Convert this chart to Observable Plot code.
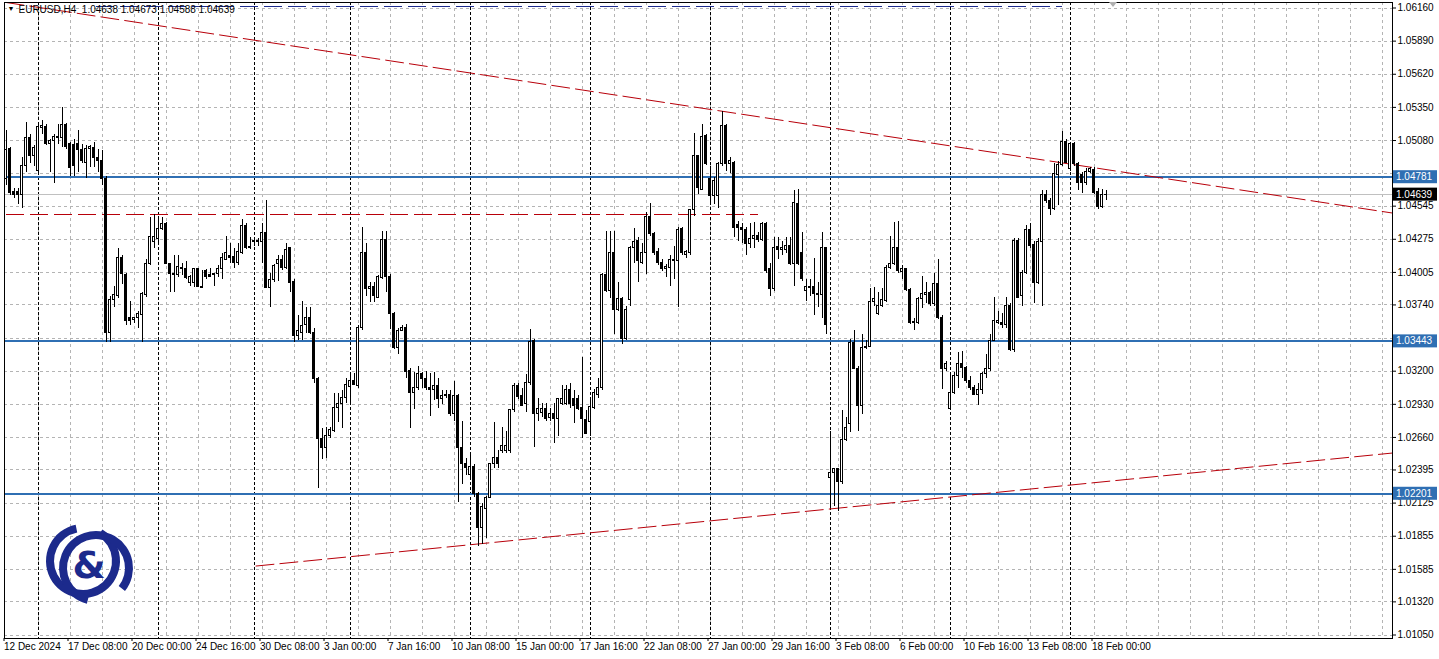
<!DOCTYPE html>
<html><head><meta charset="utf-8">
<script src="https://cdn.jsdelivr.net/npm/d3@7"></script>
<script src="https://cdn.jsdelivr.net/npm/@observablehq/plot@0.6"></script>
<style>
html,body{margin:0;padding:0;background:#fff;overflow:hidden}
#wrap{position:relative;width:1439px;height:659px}
svg{display:block}
</style></head><body><div id="wrap"></div>
<script>
const symbol = "EURUSD,H4";
const opens = [
1.0477,1.0501,1.0466,1.0466,1.0464,1.0487,1.0510,1.0495,1.0483,1.0518,
1.0519,1.0505,1.0508,1.0510,1.0510,1.0521,1.0505,1.0504,1.0505,1.0500,
1.0490,1.0501,1.0502,1.0494,1.0491,1.0477,1.0351,1.0378,1.0381,1.0412,
1.0398,1.0363,1.0362,1.0363,1.0366,1.0382,1.0407,1.0425,1.0428,1.0436,
1.0440,1.0407,1.0399,1.0398,1.0403,1.0403,1.0392,1.0392,1.0403,1.0389,
1.0402,1.0398,1.0398,1.0399,1.0403,1.0411,1.0414,1.0413,1.0408,1.0416,
1.0438,1.0421,1.0425,1.0425,1.0425,1.0433,1.0388,1.0394,1.0407,1.0411,
1.0404,1.0420,1.0393,1.0349,1.0351,1.0358,1.0363,1.0351,1.0314,1.0265,
1.0257,1.0267,1.0271,1.0290,1.0293,1.0298,1.0307,1.0312,1.0308,1.0355,
1.0416,1.0387,1.0389,1.0380,1.0396,1.0427,1.0397,1.0367,1.0339,1.0353,
1.0355,1.0320,1.0302,1.0306,1.0318,1.0314,1.0306,1.0305,1.0308,1.0297,
1.0300,1.0301,1.0285,1.0300,1.0257,1.0244,1.0235,1.0242,1.0220,1.0192,
1.0208,1.0217,1.0244,1.0249,1.0255,1.0255,1.0255,1.0288,1.0308,1.0300,
1.0293,1.0310,1.0345,1.0285,1.0286,1.0289,1.0282,1.0285,1.0281,1.0293,
1.0293,1.0305,1.0297,1.0297,1.0290,1.0280,1.0279,1.0290,1.0301,1.0306,
1.0398,1.0385,1.0416,1.0370,1.0379,1.0346,1.0378,1.0420,1.0426,1.0408,
1.0416,1.0446,1.0432,1.0417,1.0408,1.0403,1.0404,1.0411,1.0410,1.0436,
1.0415,1.0416,1.0451,1.0495,1.0468,1.0512,1.0477,1.0463,1.0463,1.0489,
1.0520,1.0489,1.0490,1.0439,1.0437,1.0435,1.0424,1.0428,1.0430,1.0427,
1.0440,1.0403,1.0387,1.0421,1.0419,1.0419,1.0422,1.0407,1.0456,1.0416,
1.0385,1.0389,1.0389,1.0383,1.0382,1.0420,1.0233,1.0237,1.0240,1.0230,
1.0264,1.0277,1.0343,1.0322,1.0292,1.0339,1.0340,1.0376,1.0367,1.0373,
1.0377,1.0404,1.0407,1.0420,1.0401,1.0403,1.0386,1.0360,1.0359,1.0379,
1.0382,1.0384,1.0375,1.0391,1.0363,1.0322,1.0289,1.0302,1.0316,1.0326,
1.0323,1.0312,1.0306,1.0301,1.0305,1.0318,1.0322,1.0345,1.0359,1.0359,
1.0358,1.0373,1.0337,1.0426,1.0381,1.0400,1.0435,1.0423,1.0392,1.0425,
1.0464,1.0459,1.0452,1.0480,1.0488,1.0507,1.0485,1.0505,1.0489,1.0480,
1.0473,1.0482,1.0484,1.0466,1.0454,1.04638];
const highs = [
1.0516,1.0502,1.0469,1.0469,1.0494,1.0523,1.0513,1.0504,1.0520,1.0524,
1.0521,1.0509,1.0513,1.0521,1.0535,1.0522,1.0506,1.0509,1.0516,1.0505,
1.0504,1.0504,1.0506,1.0501,1.0500,1.0479,1.0381,1.0389,1.0420,1.0414,
1.0400,1.0377,1.0363,1.0369,1.0384,1.0411,1.0445,1.0448,1.0446,1.0445,
1.0441,1.0408,1.0414,1.0414,1.0408,1.0409,1.0398,1.0404,1.0404,1.0402,
1.0403,1.0404,1.0400,1.0406,1.0416,1.0430,1.0424,1.0420,1.0424,1.0444,
1.0440,1.0429,1.0429,1.0428,1.0440,1.0459,1.0400,1.0407,1.0414,1.0414,
1.0424,1.0421,1.0395,1.0365,1.0377,1.0372,1.0372,1.0355,1.0315,1.0273,
1.0274,1.0274,1.0302,1.0302,1.0304,1.0314,1.0318,1.0318,1.0357,1.0437,
1.0424,1.0392,1.0392,1.0398,1.0434,1.0434,1.0399,1.0368,1.0355,1.0357,
1.0358,1.0322,1.0319,1.0324,1.0319,1.0320,1.0318,1.0319,1.0314,1.0304,
1.0304,1.0304,1.0312,1.0301,1.0279,1.0249,1.0253,1.0244,1.0221,1.0212,
1.0218,1.0245,1.0278,1.0255,1.0274,1.0271,1.0289,1.0310,1.0310,1.0306,
1.0317,1.0354,1.0346,1.0298,1.0294,1.0294,1.0290,1.0294,1.0298,1.0308,
1.0308,1.0310,1.0304,1.0300,1.0331,1.0288,1.0298,1.0305,1.0314,1.0400,
1.0434,1.0434,1.0434,1.0392,1.0380,1.0373,1.0422,1.0436,1.0429,1.0424,
1.0449,1.0457,1.0433,1.0420,1.0411,1.0407,1.0414,1.0422,1.0437,1.0437,
1.0418,1.0452,1.0514,1.0496,1.0521,1.0513,1.0487,1.0478,1.0490,1.0532,
1.0521,1.0494,1.0491,1.0442,1.0440,1.0437,1.0440,1.0441,1.0433,1.0441,
1.0441,1.0408,1.0429,1.0429,1.0426,1.0429,1.0429,1.0467,1.0468,1.0433,
1.0395,1.0395,1.0412,1.0392,1.0433,1.0421,1.0271,1.0241,1.0241,1.0288,
1.0282,1.0346,1.0353,1.0324,1.0350,1.0345,1.0387,1.0388,1.0384,1.0387,
1.0406,1.0430,1.0441,1.0442,1.0406,1.0404,1.0387,1.0363,1.0380,1.0397,
1.0392,1.0385,1.0400,1.0411,1.0365,1.0328,1.0319,1.0319,1.0335,1.0336,
1.0324,1.0316,1.0308,1.0310,1.0319,1.0334,1.0350,1.0380,1.0369,1.0367,
1.0380,1.0375,1.0428,1.0428,1.0402,1.0439,1.0440,1.0426,1.0428,1.0467,
1.0467,1.0461,1.0489,1.0491,1.0515,1.0509,1.0506,1.0506,1.0490,1.0482,
1.0485,1.0486,1.0486,1.0469,1.0468,1.04673];
const lows = [
1.0471,1.0463,1.0461,1.0456,1.0453,1.0482,1.0489,1.0487,1.0482,1.0513,
1.0504,1.0482,1.0473,1.0505,1.0502,1.0501,1.0479,1.0479,1.0482,1.0489,
1.0477,1.0486,1.0486,1.0482,1.0471,1.0343,1.0343,1.0372,1.0379,1.0391,
1.0357,1.0357,1.0359,1.0355,1.0343,1.0380,1.0406,1.0420,1.0425,1.0435,
1.0407,1.0384,1.0384,1.0396,1.0398,1.0395,1.0389,1.0388,1.0388,1.0387,
1.0395,1.0396,1.0389,1.0396,1.0395,1.0410,1.0408,1.0404,1.0406,1.0415,
1.0419,1.0419,1.0422,1.0422,1.0408,1.0387,1.0372,1.0392,1.0393,1.0402,
1.0403,1.0384,1.0343,1.0345,1.0345,1.0351,1.0350,1.0310,1.0224,1.0248,
1.0249,1.0265,1.0270,1.0278,1.0273,1.0294,1.0294,1.0308,1.0306,1.0353,
1.0381,1.0376,1.0376,1.0379,1.0395,1.0384,1.0354,1.0338,1.0334,1.0352,
1.0314,1.0273,1.0289,1.0304,1.0306,1.0304,1.0283,1.0296,1.0290,1.0293,
1.0298,1.0283,1.0279,1.0213,1.0228,1.0235,1.0233,1.0217,1.0177,1.0179,
1.0184,1.0216,1.0241,1.0241,1.0253,1.0253,1.0253,1.0286,1.0297,1.0291,
1.0286,1.0308,1.0258,1.0279,1.0282,1.0279,1.0279,1.0261,1.0267,1.0292,
1.0292,1.0290,1.0277,1.0288,1.0265,1.0268,1.0267,1.0289,1.0298,1.0304,
1.0384,1.0379,1.0350,1.0369,1.0342,1.0345,1.0373,1.0408,1.0392,1.0407,
1.0399,1.0430,1.0414,1.0406,1.0401,1.0396,1.0389,1.0395,1.0372,1.0414,
1.0412,1.0414,1.0446,1.0464,1.0467,1.0488,1.0456,1.0456,1.0453,1.0487,
1.0483,1.0481,1.0429,1.0426,1.0424,1.0414,1.0420,1.0420,1.0425,1.0426,
1.0400,1.0381,1.0385,1.0411,1.0414,1.0416,1.0406,1.0389,1.0406,1.0393,
1.0377,1.0381,1.0365,1.0372,1.0363,1.0350,1.0208,1.0210,1.0206,1.0228,
1.0263,1.0270,1.0321,1.0271,1.0285,1.0338,1.0339,1.0373,1.0365,1.0372,
1.0376,1.0403,1.0406,1.0400,1.0395,1.0385,1.0358,1.0353,1.0358,1.0371,
1.0375,1.0373,1.0373,1.0362,1.0305,1.0320,1.0288,1.0301,1.0306,1.0314,
1.0310,1.0304,1.0300,1.0292,1.0301,1.0314,1.0320,1.0344,1.0358,1.0355,
1.0355,1.0336,1.0335,1.0379,1.0373,1.0399,1.0420,1.0375,1.0391,1.0373,
1.0457,1.0447,1.0451,1.0455,1.0487,1.0489,1.0483,1.0487,1.0467,1.0465,
1.0471,1.0481,1.0464,1.0452,1.0453,1.04588];
const closes = [
1.0500,1.0465,1.0464,1.0464,1.0487,1.0510,1.0495,1.0502,1.0519,1.0520,
1.0505,1.0508,1.0511,1.0511,1.0521,1.0503,1.0486,1.0487,1.0500,1.0491,
1.0501,1.0503,1.0494,1.0491,1.0477,1.0351,1.0378,1.0382,1.0412,1.0399,
1.0361,1.0361,1.0363,1.0367,1.0383,1.0407,1.0429,1.0429,1.0436,1.0440,
1.0407,1.0399,1.0398,1.0405,1.0404,1.0396,1.0397,1.0403,1.0389,1.0388,
1.0397,1.0397,1.0399,1.0403,1.0412,1.0416,1.0412,1.0408,1.0417,1.0438,
1.0420,1.0420,1.0426,1.0426,1.0433,1.0388,1.0394,1.0406,1.0411,1.0404,
1.0419,1.0392,1.0349,1.0353,1.0357,1.0363,1.0351,1.0314,1.0265,1.0257,
1.0267,1.0272,1.0290,1.0293,1.0298,1.0309,1.0312,1.0309,1.0355,1.0416,
1.0387,1.0389,1.0381,1.0397,1.0427,1.0397,1.0367,1.0339,1.0353,1.0355,
1.0319,1.0302,1.0306,1.0318,1.0314,1.0306,1.0305,1.0308,1.0297,1.0300,
1.0301,1.0285,1.0300,1.0257,1.0244,1.0241,1.0242,1.0220,1.0192,1.0209,
1.0217,1.0244,1.0249,1.0244,1.0259,1.0259,1.0288,1.0308,1.0299,1.0292,
1.0310,1.0344,1.0285,1.0289,1.0289,1.0281,1.0285,1.0281,1.0297,1.0297,
1.0305,1.0293,1.0292,1.0289,1.0281,1.0269,1.0291,1.0302,1.0306,1.0398,
1.0385,1.0416,1.0370,1.0379,1.0346,1.0370,1.0420,1.0425,1.0410,1.0416,
1.0446,1.0432,1.0416,1.0408,1.0403,1.0405,1.0411,1.0410,1.0435,1.0416,
1.0417,1.0451,1.0495,1.0469,1.0511,1.0489,1.0463,1.0475,1.0489,1.0520,
1.0489,1.0491,1.0437,1.0437,1.0435,1.0424,1.0428,1.0430,1.0427,1.0440,
1.0402,1.0387,1.0420,1.0419,1.0420,1.0422,1.0407,1.0457,1.0407,1.0395,
1.0389,1.0388,1.0383,1.0382,1.0420,1.0358,1.0237,1.0240,1.0230,1.0264,
1.0274,1.0343,1.0322,1.0292,1.0339,1.0340,1.0376,1.0379,1.0373,1.0378,
1.0404,1.0407,1.0420,1.0402,1.0403,1.0386,1.0359,1.0359,1.0379,1.0383,
1.0384,1.0375,1.0391,1.0363,1.0322,1.0326,1.0302,1.0316,1.0326,1.0323,
1.0312,1.0306,1.0301,1.0305,1.0318,1.0322,1.0345,1.0361,1.0361,1.0358,
1.0373,1.0337,1.0426,1.0380,1.0400,1.0435,1.0422,1.0392,1.0425,1.0464,
1.0459,1.0452,1.0481,1.0488,1.0507,1.0490,1.0505,1.0489,1.0473,1.0473,
1.0482,1.0485,1.0465,1.0454,1.0464,1.04639];

const priceTicks = [1.06160,1.05890,1.05620,1.05350,1.05080,1.04810,1.04545,1.04275,1.04005,1.03740,
  1.03470,1.03200,1.02930,1.02660,1.02395,1.02125,1.01855,1.01585,1.01320,1.01050];
const timeTickBars = [0,16,32,48,64,80,96,112,128,144,160,176,192,208,224,240,256,272];
const timeTickLabels = ["12 Dec 2024","17 Dec 08:00","20 Dec 00:00","24 Dec 16:00","30 Dec 08:00","3 Jan 00:00",
  "7 Jan 16:00","10 Jan 08:00","15 Jan 00:00","17 Jan 16:00","22 Jan 08:00","27 Jan 00:00","29 Jan 16:00",
  "3 Feb 08:00","6 Feb 00:00","10 Feb 16:00","13 Feb 08:00","18 Feb 00:00"];
const weekStartBars = [8,38,62,86,116,146,176,206,236,266];
const levelLines = [1.04781, 1.03443, 1.02201];
const bidPrice = 1.04639;
const redLevel = [{price:1.0448, from:0, to:188}];
const blueLevel = [{price:1.0617, from:22.5, to:264}];
const trendFalling = [{bar:0, price:1.06205},{bar:346.6, price:1.04489}];
const trendRising = [{bar:62.5, price:1.01612},{bar:346.6, price:1.02533}];

const candles = opens.map((o,i)=>({bar:i, open:o, high:highs[i], low:lows[i], close:closes[i]}));
const gridBars = d3.range(8, 347, 8);
const last = candles[candles.length-1];
const header = `${symbol}  ${last.open.toFixed(5)} ${last.high.toFixed(5)} ${last.low.toFixed(5)} ${last.close.toFixed(5)}`;
// tick labels that the terminal hides under the coloured level labels
const hiddenTicks = [1.04810, 1.03470];

const RED = "#b8000a", BLUE = "#2f6fb3", NAVY = "#1c2a8c", GRID = "#b4b4b4";
const crisp = {shapeRendering: "crispEdges"};

const chart = Plot.plot({
  width: 1439, height: 659,
  marginLeft: 4, marginRight: 47, marginTop: 2, marginBottom: 21,
  style: {fontFamily: "'Liberation Sans', Arial, sans-serif", fontSize: "10px", background: "#fff", color: "#000"},
  x: {domain: [-0.375, 346.625], axis: null},
  y: {domain: [1.01050, 1.06160], range: [634.5, 7.5], axis: null},
  marks: [
    Plot.ruleY(priceTicks, {stroke: GRID, strokeDasharray: "3,3", ...crisp}),
    Plot.ruleX(gridBars, {stroke: GRID, strokeDasharray: "3,3", ...crisp}),
    Plot.ruleX(weekStartBars, {stroke: "#000", strokeDasharray: "3,2", ...crisp}),
    Plot.ruleY(levelLines, {stroke: BLUE, strokeWidth: 2, ...crisp}),
    Plot.ruleY([bidPrice], {stroke: "#c0c0c0", ...crisp}),
    Plot.ruleY(redLevel, {y: "price", x1: "from", x2: "to", stroke: RED, strokeDasharray: "18,6", ...crisp}),
    Plot.ruleY(blueLevel, {y: "price", x1: "from", x2: "to", stroke: NAVY, strokeDasharray: "18,6", ...crisp}),
    Plot.line(trendFalling, {x: "bar", y: "price", stroke: RED, strokeWidth: 1, strokeDasharray: "18,6", clip: true}),
    Plot.line(trendRising, {x: "bar", y: "price", stroke: RED, strokeWidth: 1, strokeDasharray: "18,6", clip: true}),
    Plot.ruleX(candles, {x: "bar", y1: "low", y2: "high", stroke: "#000", ...crisp}),
    Plot.rect(candles, {x1: d => d.bar - 0.25, x2: d => d.bar + 0.25, y1: "open", y2: "close",
      fill: d => d.close > d.open ? "#fff" : "#000", stroke: "#000", strokeWidth: 1, ...crisp}),
    Plot.frame({stroke: "#000"}),
    Plot.axisY(priceTicks, {anchor: "right", tickSize: 3, tickPadding: 2, tickFormat: d => hiddenTicks.includes(d) ? "" : d.toFixed(5), fontSize: 10}),
    Plot.axisX(timeTickBars, {anchor: "bottom", tickSize: 3, tickPadding: 1, textAnchor: "start", dx: -2,
      tickFormat: (d, i) => timeTickLabels[i], fontSize: 10}),
    Plot.text([header], {frameAnchor: "top-left", dx: 14, dy: 3, textAnchor: "start", lineAnchor: "top", fontSize: 10, fill: "#000"}),
    Plot.text(["▼"], {frameAnchor: "top-left", dx: 3, dy: 4, textAnchor: "start", lineAnchor: "top", fontSize: 7, fill: "#000"})
  ]
});
document.getElementById("wrap").appendChild(chart);

// price labels on the right axis, positioned through Plot's y scale
const yS = chart.scale("y");
const svg = d3.select(chart);
const labels = levelLines.map(p => ({p, bg: BLUE})).concat([{p: bidPrice, bg: "#000"}]);
const g = svg.append("g").attr("font-family", "'Liberation Sans', Arial, sans-serif").attr("font-size", 10).attr("text-anchor", "start");
labels.forEach(l => {
  const yy = yS.apply(l.p);
  g.append("rect").attr("x", 1393).attr("y", yy - 6.5).attr("width", 44).attr("height", 13).attr("fill", l.bg);
  g.append("text").attr("x", 1396).attr("y", yy).attr("dy", "0.35em").attr("fill", "#fff").text(l.p.toFixed(5));
});

// chart shift marker
svg.append("path").attr("d", "M1109,2 L1117,2 L1113,7 Z").attr("fill", "#b0b0b0");

// logo
const lg = svg.append("g");
lg.append("path").attr("d", d3.arc()({innerRadius: 29, outerRadius: 37, startAngle: 0.55, endAngle: 2*Math.PI - 0.2}))
  .attr("transform", "translate(83,561)").attr("fill", NAVY);
lg.append("path").attr("d", d3.arc()({innerRadius: 29, outerRadius: 37, startAngle: 0.25, endAngle: 2*Math.PI - 0.9}))
  .attr("transform", "translate(96,568) rotate(180)").attr("fill", NAVY);
lg.append("text").attr("x", 89).attr("y", 565).attr("text-anchor", "middle").attr("dy", "0.35em")
  .attr("font-family", "'DejaVu Sans', sans-serif").attr("font-weight", "bold").attr("font-size", 38).attr("fill", NAVY).text("&");
</script>
</body></html>
